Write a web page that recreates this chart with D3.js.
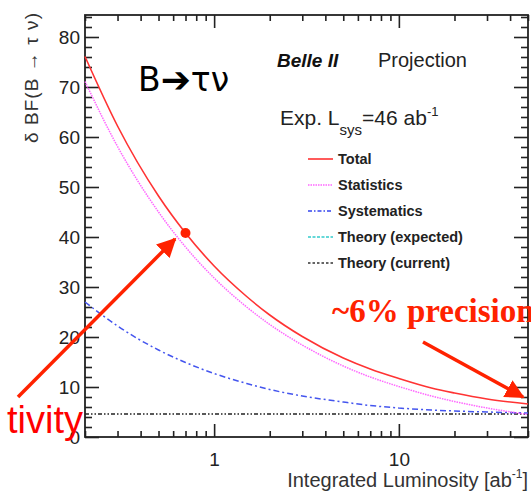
<!DOCTYPE html>
<html>
<head>
<meta charset="utf-8">
<script src="https://cdn.jsdelivr.net/npm/d3@7"></script>
<style>
  body { margin: 0; background: #fff; }
  svg { display: block; font-family: "Liberation Sans", Arial, sans-serif; }
</style>
</head>
<body>
<svg id="chart" width="531" height="493"></svg>
<script>
// values
const lumi = [0.2, 0.3, 0.5, 0.7, 1, 1.5, 2, 3, 5, 7, 10, 15, 20, 30, 50]
const total = [76.1, 62.2, 48.2, 40.8, 34.2, 28.1, 24.4, 20.1, 15.8, 13.6, 11.7, 9.8, 8.8, 7.6, 6.6]
const stats = [71.1, 58.1, 45.0, 38.0, 31.8, 26.0, 22.5, 18.4, 14.2, 12.0, 10.1, 8.2, 7.1, 5.8, 4.5]
const syst = [27.0, 22.2, 17.4, 14.9, 12.7, 10.7, 9.5, 8.2, 7.0, 6.3, 5.8, 5.4, 5.2, 5.0, 4.8]
const theoryCurrent = 4.6
const marker = { lumi: 0.7, value: 40.8 }

const yTicks = [0, 10, 20, 30, 40, 50, 60, 70, 80]
const xTickLabels = [1, 10]
const legendNames = ['Total', 'Statistics', 'Systematics', 'Theory (expected)', 'Theory (current)']

const svg = d3.select('#chart')

const x = d3.scaleLog().domain([0.2, 50]).range([85, 528])
const y = d3.scaleLinear().domain([0, 84.4]).range([437, 15])

// minor ticks
const xMinor = []
;[0.1, 1, 10].forEach(d => { for (let k = 2; k <= 9; k++) { const v = d * k; if (v >= 0.2 && v <= 50) xMinor.push(v) } })
const yMinor = d3.range(0, 85, 2).filter(v => v % 10 != 0)

const axisColor = '#222'

function styleAxis(g) {
    g.select('.domain').remove()
    g.selectAll('line').attr('stroke', axisColor).attr('stroke-width', 1.6)
}

// bottom
svg.append('g').attr('transform', 'translate(0,437)')
    .call(d3.axisBottom(x).tickValues(xMinor).tickSize(-6).tickFormat(''))
    .call(styleAxis)
svg.append('g').attr('transform', 'translate(0,437)')
    .call(d3.axisBottom(x).tickValues(xTickLabels).tickSize(-13).tickPadding(16).tickFormat(d3.format('d')))
    .call(styleAxis)
    .selectAll('text').attr('font-size', 19).attr('fill', axisColor).attr('font-family', 'Liberation Sans')
// top
svg.append('g').attr('transform', 'translate(0,15)')
    .call(d3.axisTop(x).tickValues(xMinor).tickSize(-6).tickFormat(''))
    .call(styleAxis)
svg.append('g').attr('transform', 'translate(0,15)')
    .call(d3.axisTop(x).tickValues(xTickLabels).tickSize(-13).tickFormat(''))
    .call(styleAxis)
// left
svg.append('g').attr('transform', 'translate(85,0)')
    .call(d3.axisLeft(y).tickValues(yMinor).tickSize(-7).tickFormat(''))
    .call(styleAxis)
svg.append('g').attr('transform', 'translate(85,0)')
    .call(d3.axisLeft(y).tickValues(yTicks).tickSize(-14).tickPadding(5).tickFormat(d3.format('d')))
    .call(styleAxis)
    .selectAll('text').attr('font-size', 19).attr('fill', axisColor).attr('font-family', 'Liberation Sans')
// right
svg.append('g').attr('transform', 'translate(528,0)')
    .call(d3.axisRight(y).tickValues(yMinor).tickSize(-7).tickFormat(''))
    .call(styleAxis)
svg.append('g').attr('transform', 'translate(528,0)')
    .call(d3.axisRight(y).tickValues(yTicks).tickSize(-14).tickFormat(''))
    .call(styleAxis)

// frame
svg.append('rect').attr('x', 85).attr('y', 15).attr('width', 443).attr('height', 422)
    .attr('fill', 'none').attr('stroke', axisColor).attr('stroke-width', 1.8)

// axis titles
svg.append('text').attr('transform', 'translate(38,13) rotate(-90)')
    .attr('text-anchor', 'end').attr('font-size', 19).attr('fill', '#333')
    .attr('textLength', 130)
    .text('δ BF(B → τ ν)')
const xt = svg.append('text').attr('x', 528).attr('y', 487).attr('text-anchor', 'end')
    .attr('font-size', 20).attr('fill', '#333')
xt.append('tspan').text('Integrated Luminosity [ab')
xt.append('tspan').attr('font-size', 12).attr('dy', -9).text('-1')
xt.append('tspan').attr('dy', 9).text(']')

// curves
const line = d3.line().x((d, i) => x(lumi[i])).y(d => y(d)).curve(d3.curveMonotoneX)

svg.append('line').attr('x1', x(0.2)).attr('x2', x(50)).attr('y1', y(theoryCurrent)).attr('y2', y(theoryCurrent))
    .attr('stroke', '#222').attr('stroke-width', 1.5).attr('stroke-dasharray', '4,2,1.5,2,1.5,2')
svg.append('path').datum(syst).attr('d', line).attr('fill', 'none')
    .attr('stroke', '#4455ee').attr('stroke-width', 1.5).attr('stroke-dasharray', '6,3,2,3')
svg.append('path').datum(stats).attr('d', line).attr('fill', 'none')
    .attr('stroke', '#ff66ff').attr('stroke-width', 1.5).attr('stroke-dasharray', '1.5,1')
svg.append('path').datum(total).attr('d', line).attr('fill', 'none')
    .attr('stroke', '#ff3333').attr('stroke-width', 1.6)

// legend
const legendStyles = [
    { color: '#ff3333', dash: null },
    { color: '#ff66ff', dash: '1.5,1' },
    { color: '#3344ee', dash: '4,2,1.5,2' },
    { color: '#33cccc', dash: '3,1.5' },
    { color: '#333333', dash: '2.5,2' }
]
legendNames.forEach((name, i) => {
    const ly = 164 + i * 26
    svg.append('line').attr('x1', 308).attr('x2', 333).attr('y1', ly - 5).attr('y2', ly - 5)
        .attr('stroke', legendStyles[i].color).attr('stroke-width', 1.6)
        .attr('stroke-dasharray', legendStyles[i].dash)
    svg.append('text').attr('x', 338).attr('y', ly).attr('font-size', 14.5).attr('font-weight', 'bold')
        .attr('fill', '#222').text(name)
})

// labels
svg.append('text').attr('x', 277).attr('y', 67).attr('font-size', 19).attr('font-weight', 'bold')
    .attr('font-style', 'italic').attr('fill', '#111').text('Belle II')
svg.append('text').attr('x', 378).attr('y', 67).attr('font-size', 20).attr('fill', '#222').text('Projection')
const ex = svg.append('text').attr('x', 280).attr('y', 125).attr('font-size', 21).attr('fill', '#222')
ex.append('tspan').text('Exp. L')
ex.append('tspan').attr('font-size', 15).attr('dy', 10).text('sys')
ex.append('tspan').attr('dy', -10).text('=46 ab')
ex.append('tspan').attr('font-size', 13).attr('dy', -9).text('-1')

const bt = svg.append('text').attr('x', 138).attr('y', 91).attr('font-size', 33).attr('fill', '#000')
    .attr('font-family', 'DejaVu Sans')
bt.append('tspan').text('B')
bt.append('tspan').attr('font-size', 36).attr('dy', 1).text('➔')
bt.append('tspan').attr('dy', -1).text('τν')

// annotations
const defs = svg.append('defs')
defs.append('marker').attr('id', 'head').attr('viewBox', '0 0 10 10').attr('refX', 9).attr('refY', 5)
    .attr('markerWidth', 5.5).attr('markerHeight', 5.5).attr('orient', 'auto')
    .append('path').attr('d', 'M0,0L10,5L0,10Z').attr('fill', '#ff2200')

svg.append('circle').attr('cx', x(marker.lumi)).attr('cy', y(marker.value)).attr('r', 5).attr('fill', '#ff2200')

svg.append('line').attr('x1', 18).attr('y1', 397).attr('x2', 175).attr('y2', 239)
    .attr('stroke', '#ff2200').attr('stroke-width', 3.5).attr('marker-end', 'url(#head)')
svg.append('line').attr('x1', 423).attr('y1', 342).attr('x2', 523).attr('y2', 397)
    .attr('stroke', '#ff2200').attr('stroke-width', 3.5).attr('marker-end', 'url(#head)')

svg.append('text').attr('x', 83).attr('y', 433).attr('text-anchor', 'end').attr('font-size', 38)
    .attr('fill', '#ff0000').text('tivity')
svg.append('text').attr('x', 332).attr('y', 322).attr('font-size', 33).attr('font-weight', 'bold')
    .attr('font-family', 'Liberation Serif').attr('fill', '#ff2200').text('~6% precision')
</script>
</body>
</html>
